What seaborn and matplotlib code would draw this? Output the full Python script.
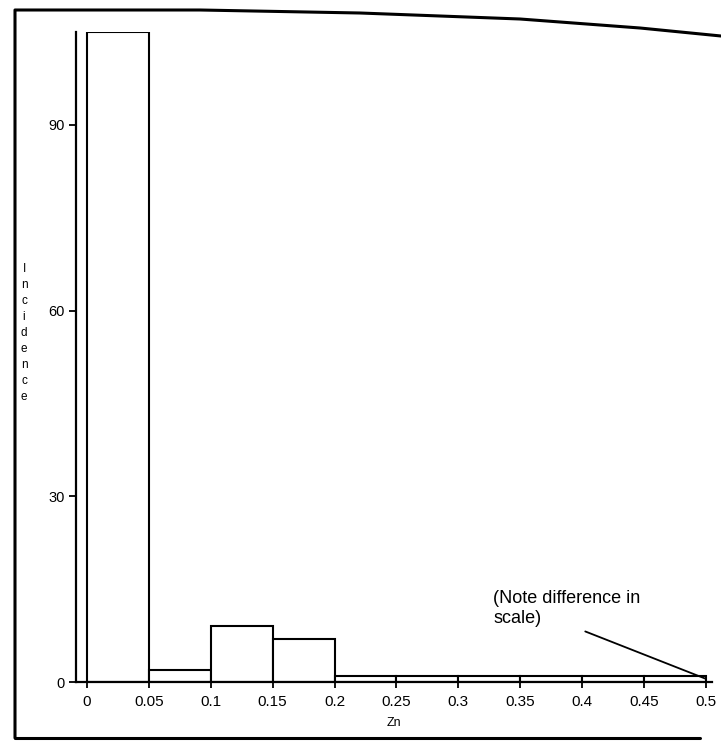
import matplotlib.pyplot as plt
import seaborn as sns
from matplotlib.lines import Line2D

sns.set_style('white')
plt.rcParams['font.family'] = ['Liberation Sans', 'DejaVu Sans']
plt.rcParams.update({'text.color': 'black', 'axes.labelcolor': 'black',
                     'xtick.color': 'black', 'ytick.color': 'black'})

# Zn histogram, bin edges and counts
bin_edges = [0, 0.05, 0.1, 0.15, 0.2, 0.25, 0.3, 0.35, 0.4, 0.45, 0.5]
bin_mids = [0.025, 0.075, 0.125, 0.175, 0.225, 0.275, 0.325, 0.375, 0.425, 0.475]
counts = [105, 2, 9, 7, 1, 1, 1, 1, 1, 1]

x_ticks = [0, 0.05, 0.1, 0.15, 0.2, 0.25, 0.3, 0.35, 0.4, 0.45, 0.5]
x_tick_labels = ['0', '0.05', '0.1', '0.15', '0.2', '0.25', '0.3', '0.35', '0.4', '0.45', '0.5']
y_ticks = [0, 30, 60, 90]

W, H = 721, 742
fig = plt.figure(figsize=(W / 100, H / 100), dpi=100)
ax = fig.add_axes([76 / W, 1 - 682 / H, (712 - 76) / W, (682 - 32) / H])

sns.histplot(x=bin_mids, weights=counts, bins=bin_edges, ax=ax,
             color='white', edgecolor='black', linewidth=1.5, alpha=1)

ax.set_xlim(-0.0088, 0.5048)
ax.set_ylim(0, 105)
ax.set_xticks(x_ticks)
ax.set_xticklabels(x_tick_labels)
ax.set_yticks(y_ticks)
ax.tick_params(axis='x', direction='inout', length=8, width=1.3, labelsize=11, pad=5)
ax.tick_params(axis='y', direction='out', length=5, width=1.3, labelsize=10.5, pad=3)
ax.tick_params(bottom=True, left=True)

for s in ['top', 'right']:
    ax.spines[s].set_visible(False)
for s in ['left', 'bottom']:
    ax.spines[s].set_linewidth(1.6)
    ax.spines[s].set_color('black')

ax.set_xlabel('Zn', fontsize=9, labelpad=6)
ax.set_ylabel('')
fig.text(24 / W, 1 - 333 / H, '\n'.join('Incidence'), fontsize=8.5,
         ha='center', va='center', linespacing=1.45)

ax.annotate('(Note difference in\nscale)', xy=(0.5, 0.5), xytext=(0.328, 11.9),
            fontsize=13, ha='left', va='center', linespacing=1.2,
            arrowprops=dict(arrowstyle='-', color='black', lw=1.3,
                            relpos=(0.385, 0.25), shrinkA=3, shrinkB=0))

# scan border
def px(x, y):
    return x / W, 1 - y / H

border = [
    [(15, 738), (15, 10), (200, 10), (360, 13), (520, 19), (640, 28), (721, 36)],
    [(15, 738), (700, 738)],
]
for pts in border:
    xs, ys = zip(*[px(*p) for p in pts])
    fig.add_artist(Line2D(xs, ys, color='black', lw=2.2, transform=fig.transFigure))

fig.savefig('out.png', dpi=100)
